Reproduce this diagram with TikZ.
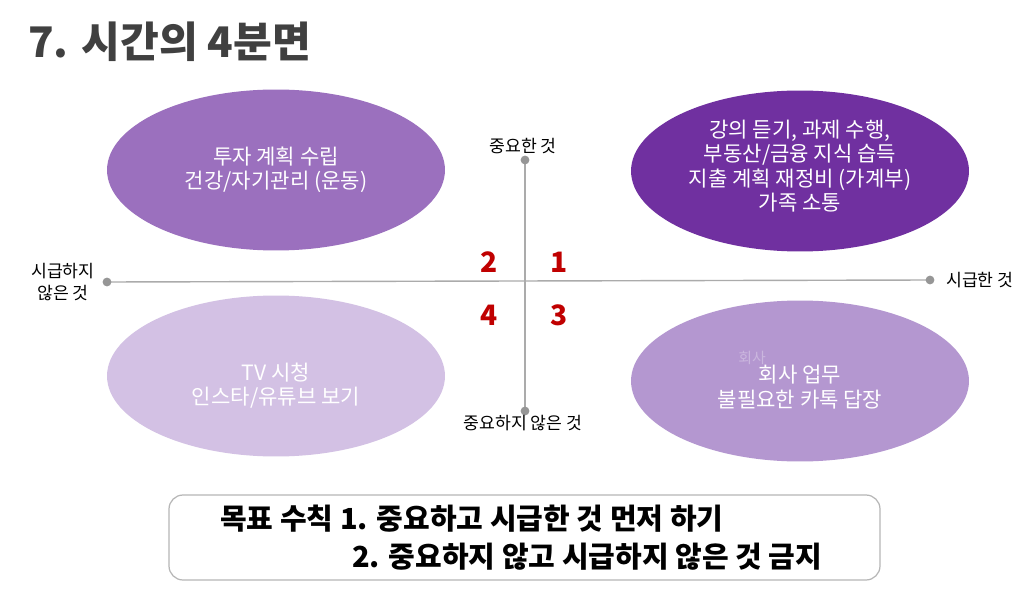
\documentclass[tikz,border=0pt]{standalone}
\usepackage{fontspec}
\setmainfont{Noto Sans CJK KR}
\usepackage{xcolor}
\usetikzlibrary{shapes.geometric}

\definecolor{qone}{RGB}{155,112,190}
\definecolor{qtwo}{RGB}{112,48,160}
\definecolor{qthree}{RGB}{211,193,228}
\definecolor{qfour}{RGB}{180,151,208}
\definecolor{axisgray}{RGB}{150,150,150}
\definecolor{numred}{RGB}{192,0,0}
\definecolor{titlegray}{RGB}{64,64,64}

\tikzset{
  quad/.style={ellipse, minimum width=6.76cm, minimum height=3.22cm, inner sep=0pt},
  quadtext/.style={white, align=center, font=\fontsize{12}{13.8}\selectfont},
  axislabel/.style={black, align=center, font=\fontsize{9.8}{13}\selectfont},
  quadnum/.style={numred, font=\fontsize{16}{18}\selectfont\bfseries},
  axisdot/.style={fill=axisgray, circle, inner sep=0pt, minimum size=5pt}
}

\begin{document}
\begin{tikzpicture}[x=0.02cm, y=-0.02cm]
  % page frame
  \useasboundingbox (0,0) rectangle (1028,591);
  \fill[white] (0,0) rectangle (1028,591);
  % Title
  \node[titlegray, anchor=west, font=\fontsize{24}{28}\selectfont\bfseries] (title) at (22,42) {7. 시간의 4분면};
  % Quadrant ellipses
  \node[quad, fill=qone] (q2) at (276,170) {};
  \node[quad, fill=qtwo] (q1) at (800,171) {};
  \node[quad, fill=qthree] (q4) at (276,376) {};
  \node[quad, fill=qfour] (q3) at (800,381) {};
  % Texts inside the ellipses
  \node[quadtext] (t2) at (276,170) {투자 계획 수립\\건강/자기관리 (운동)};
  \node[quadtext] (t1) at (800,166) {강의 듣기, 과제 수행,\\부동산/금융 지식 습득\\지출 계획 재정비 (가계부)\\가족 소통};
  \node[quadtext] (t4) at (276,386) {TV 시청\\인스타/유튜브 보기};
  \node[quadtext] (t3) at (800,387) {회사 업무\\불필요한 카톡 답장};
  % faint leftover text
  \node[white, opacity=0.3, font=\fontsize{8.5}{10}\selectfont] (ghost) at (752,358) {회사};
  % Axes
  \coordinate (top) at (525,160);
  \coordinate (bottom) at (525,411);
  \coordinate (left) at (107,282);
  \coordinate (right) at (930,280);
  \draw[axisgray!80, line width=0.8pt] (top) -- (bottom);
  \draw[axisgray!80, line width=0.8pt] (left) -- (right);
  \node[axisdot] (dtop) at (top) {};
  \node[axisdot] (dbottom) at (bottom) {};
  \node[axisdot] (dleft) at (left) {};
  \node[axisdot] (dright) at (right) {};
  % Axis labels
  \node[axislabel] (important) at (523,146) {중요한 것};
  \node[axislabel] (notimportant) at (523,423) {중요하지 않은 것};
  \node[axislabel] (noturgent) at (63,282) {시급하지\\않은 것};
  \node[axislabel, anchor=west] (urgent) at (940,280) {시급한 것};
  % Quadrant numbers
  \node[quadnum] (n2) at (489,262) {2};
  \node[quadnum] (n1) at (559,262) {1};
  \node[quadnum] (n4) at (489,315) {4};
  \node[quadnum] (n3) at (559,315) {3};
  % Goal box
  \draw[axisgray!70, line width=0.7pt, rounded corners=8pt] (169,495) rectangle (880,580);
  \node[anchor=west, font=\fontsize{16.5}{18}\selectfont\bfseries] (rule1) at (214,519) {목표 수칙 1. 중요하고 시급한 것 먼저 하기};
  \node[anchor=west, font=\fontsize{16.5}{18}\selectfont\bfseries] (rule2) at (346,557) {2. 중요하지 않고 시급하지 않은 것 금지};
\end{tikzpicture}
\end{document}
